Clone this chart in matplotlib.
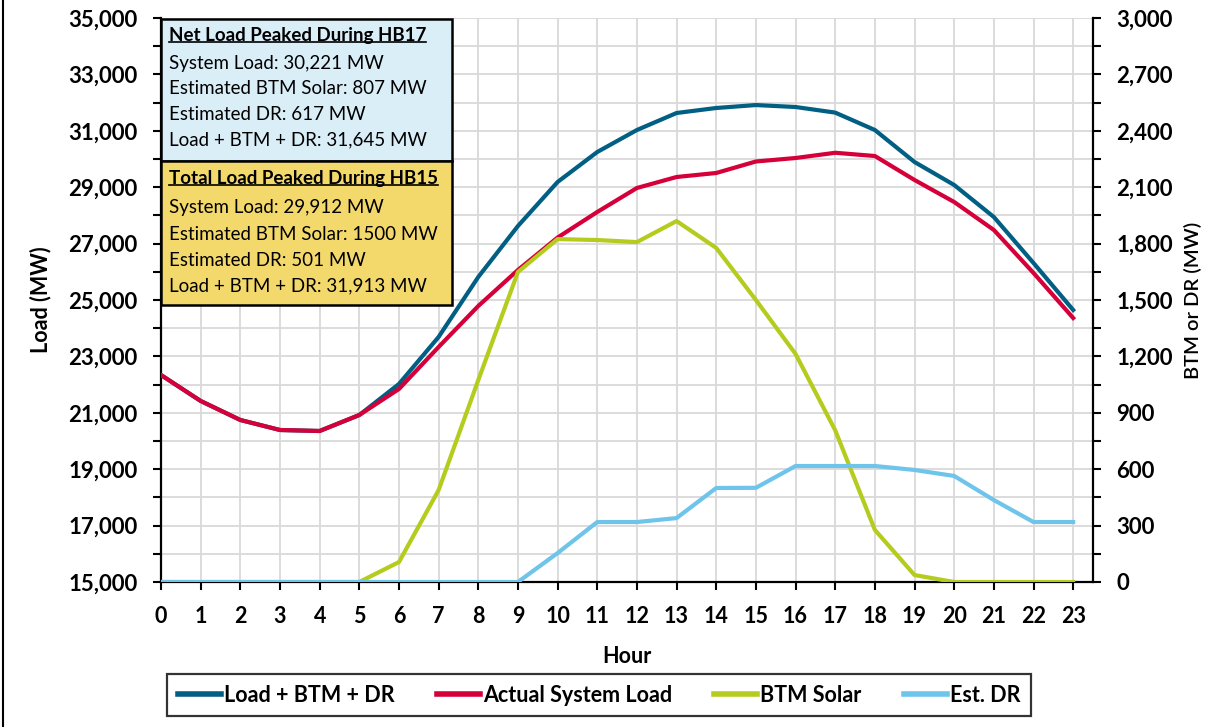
import numpy as np
import matplotlib
matplotlib.use('Agg')
import matplotlib.pyplot as plt
from matplotlib.patches import Rectangle
from matplotlib.lines import Line2D
from matplotlib.ticker import MultipleLocator, FixedLocator, FuncFormatter

plt.rcParams['font.family'] = ['Lato', 'DejaVu Sans']

# 小时
hours = list(range(24))

# 左轴 (MW)
load_btm_dr = [22340, 21420, 20745, 20390, 20355, 20922, 22022, 23690, 25816, 27624,
               29185, 30248, 31028, 31631, 31809, 31913, 31844, 31645, 31028, 29894,
               29078, 27943, 26312, 24646]
system_load = [22340, 21420, 20745, 20390, 20355, 20922, 21844, 23334, 24787, 26064,
               27215, 28121, 28972, 29362, 29504, 29912, 30035, 30221, 30106, 29256,
               28475, 27483, 25958, 24362]

# 右轴 (MW)
btm_solar = [0, 0, 0, 0, 0, 0, 106, 489, 1074, 1649,
             1824, 1819, 1808, 1920, 1777, 1500, 1213, 807, 277, 37,
             0, 0, 0, 0]
est_dr = [0, 0, 0, 0, 0, 0, 0, 0, 0, 0,
          154, 319, 319, 340, 500, 501, 617, 617, 617, 596,
          564, 436, 319, 319]

left_ticks = list(range(15000, 35001, 2000))

box1_title = 'Net Load Peaked During HB17'
box1_lines = ['System Load: 30,221 MW', 'Estimated BTM Solar: 807 MW',
              'Estimated DR: 617 MW', 'Load + BTM + DR: 31,645 MW']
box2_title = 'Total Load Peaked During HB15'
box2_lines = ['System Load: 29,912 MW', 'Estimated BTM Solar: 1500 MW',
              'Estimated DR: 501 MW', 'Load + BTM + DR: 31,913 MW']

C_DARK = '#005F83'
C_RED = '#D5003A'
C_GREEN = '#B5CC1E'
C_LIGHT = '#6EC4EA'

W, H = 1219, 727
fig = plt.figure(figsize=(W / 100, H / 100), dpi=100)
L, R, T, B = 161, 1093, 18, 582
ax = fig.add_axes([L / W, 1 - B / H, (R - L) / W, (B - T) / H])
ax2 = ax.twinx()

lw = 3.0
l1, = ax.plot(hours, load_btm_dr, color=C_DARK, lw=lw, label='Load + BTM + DR', zorder=3)
l2, = ax.plot(hours, system_load, color=C_RED, lw=lw, label='Actual System Load', zorder=3)
l3, = ax2.plot(hours, btm_solar, color=C_GREEN, lw=lw, label='BTM Solar', zorder=3)
l4, = ax2.plot(hours, est_dr, color=C_LIGHT, lw=lw, label='Est. DR', zorder=4)

ax.set_xlim(0, 23.5)
ax.set_ylim(15000, 35000)
ax2.set_ylim(0, 3000)

ax.set_xticks(hours)
ax.yaxis.set_major_locator(FixedLocator(left_ticks))
ax.yaxis.set_minor_locator(MultipleLocator(1000))
ax2.yaxis.set_major_locator(MultipleLocator(300))
ax2.yaxis.set_minor_locator(MultipleLocator(150))
fmt = FuncFormatter(lambda v, p: f'{int(v):,}')
ax.yaxis.set_major_formatter(fmt)
ax2.yaxis.set_major_formatter(fmt)

ax.grid(True, which='both', axis='y', color='#D9D9D9', lw=1.3, zorder=0)
ax.grid(True, which='major', axis='x', color='#D9D9D9', lw=1.3, zorder=0)
ax.set_axisbelow(True)

for a in (ax, ax2):
    a.spines['top'].set_visible(False)
    for s in ('left', 'right', 'bottom'):
        a.spines[s].set_linewidth(1.6)
        a.spines[s].set_color('black')
ax.spines['right'].set_visible(False)
ax2.spines['left'].set_visible(False)
ax2.spines['bottom'].set_visible(False)

ax.tick_params(axis='both', which='both', direction='out', length=6, width=1.5, color='black')
ax.tick_params(axis='y', which='major', pad=11, labelsize=16)
ax.tick_params(axis='x', which='major', pad=11, labelsize=15.5)
ax2.tick_params(axis='y', which='both', direction='out', length=6, width=1.5, color='black')
ax2.tick_params(axis='y', which='major', pad=11, labelsize=16)
for lab in ax.get_xticklabels() + ax.get_yticklabels() + ax2.get_yticklabels():
    lab.set_fontweight('bold')

ax.set_xlabel('Hour', fontsize=15.5, fontweight='bold', labelpad=14)
ax.set_ylabel('Load (MW)', fontsize=15.5, fontweight='bold', labelpad=12)
ax2.set_ylabel('BTM or DR (MW)', fontsize=14.5, fontweight='semibold', labelpad=8)

# 文本框
def add_box(y_top, y_bot, color, title, lines, ys):
    x0 = 0
    x1 = (452 - L) / (R - L)
    yb = 1 - (y_bot - T) / (B - T)
    yt = 1 - (y_top - T) / (B - T)
    ax2.add_patch(Rectangle((x0, yb), x1 - x0, yt - yb, transform=ax2.transAxes,
                            facecolor=color, edgecolor='black', lw=1.8, zorder=10,
                            clip_on=False))
    tx = (169 - L) / (R - L)
    t = ax2.text(tx, 1 - (ys[0] - T) / (B - T), title, transform=ax2.transAxes,
                 fontsize=13.5, fontweight='bold', va='center', ha='left', zorder=11)
    for yy, s in zip(ys[1:], lines):
        ax2.text(tx, 1 - (yy - T) / (B - T), s, transform=ax2.transAxes,
                 fontsize=13.5, va='center', ha='left', zorder=11)
    return t

t1 = add_box(19, 161, '#DAEEF8', box1_title, box1_lines, [35, 63, 89, 114, 140])
t2 = add_box(161, 305, '#F3D96C', box2_title, box2_lines, [179, 208, 234, 260, 286])

# 下划线
fig.canvas.draw()
inv = fig.transFigure.inverted()
for t in (t1, t2):
    bb = t.get_window_extent()
    (xa, ya), (xb, yb_) = inv.transform([(bb.x0, bb.y0 + 2), (bb.x1, bb.y0 + 2)])
    fig.add_artist(Line2D([xa, xb], [ya, yb_], transform=fig.transFigure,
                          color='black', lw=1.2, zorder=12))

leg = fig.legend(handles=[l1, l2, l3, l4], loc='center',
                 bbox_to_anchor=(599 / W, 1 - 695 / H), ncol=4, frameon=True,
                 fancybox=False, edgecolor='black', fontsize=15.5, handlelength=2.0,
                 columnspacing=1.95, handletextpad=0.15, borderpad=0.5)
leg.get_frame().set_linewidth(1.6)
for txt in leg.get_texts():
    txt.set_fontweight('bold')
for h in leg.legend_handles:
    h.set_linewidth(4)

fig.add_artist(Line2D([3 / W, 3 / W], [0, 1], transform=fig.transFigure, color='black', lw=1.5))

fig.savefig('out.png', dpi=100)
